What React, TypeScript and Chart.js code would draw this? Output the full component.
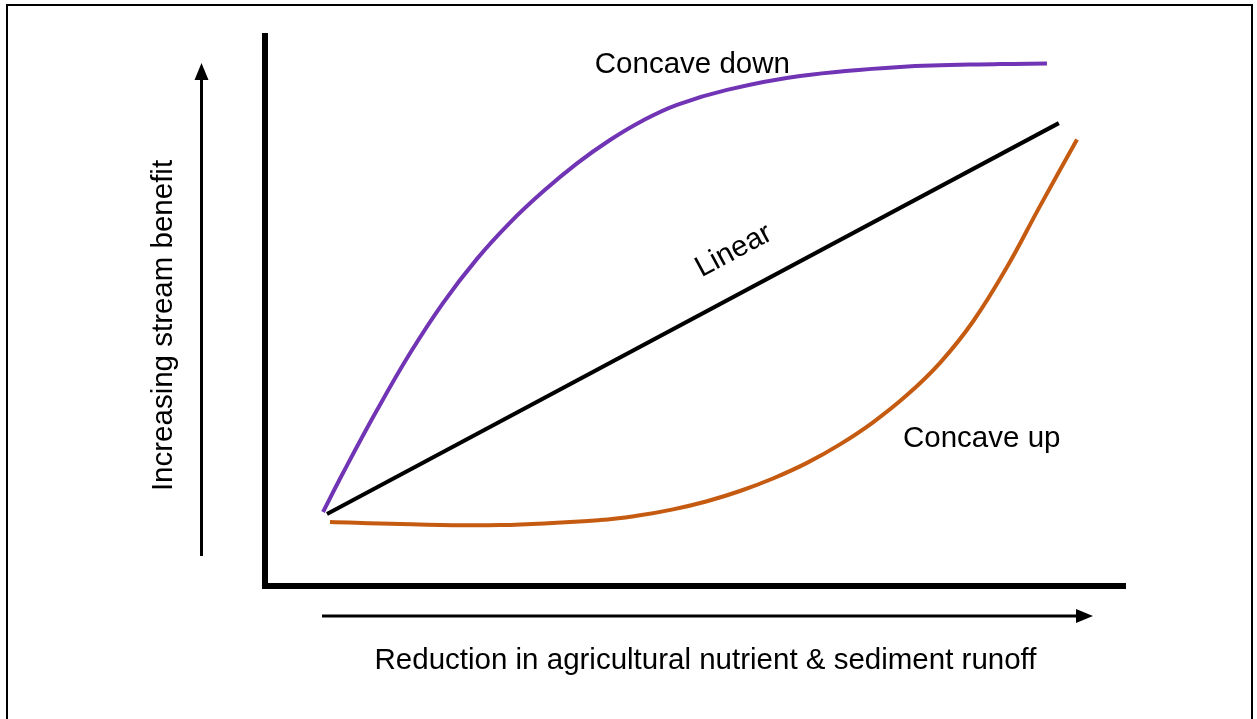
import React, { useEffect, useRef } from "react";
import { Chart, registerables } from "chart.js";

Chart.register(...registerables);

// ---- data (conceptual curves, x = reduction in runoff, y = stream benefit) ----
const concaveDownX = [6.74, 9.06, 13.01, 16.84, 20.67, 24.62, 28.46, 32.29, 36.24, 40.07, 43.9, 47.85, 53.66, 62.14, 73.75, 85.37, 90.82];
const concaveDownY = [13.38, 20.43, 31.81, 42.08, 51.16, 59.15, 65.71, 71.32, 76.42, 80.65, 84.18, 87.0, 89.71, 92.22, 93.85, 94.39, 94.48];

const linearX = [7.2, 92.2];
const linearY = [13.0, 83.7];

const concaveUpX = [7.55, 15.68, 27.29, 38.91, 43.55, 47.39, 51.34, 55.17, 59.0, 62.95, 66.78, 70.62, 74.56, 78.4, 82.23, 86.18, 90.01, 94.31];
const concaveUpY = [11.57, 11.19, 11.01, 11.92, 12.78, 13.85, 15.33, 17.18, 19.44, 22.26, 25.61, 29.6, 34.52, 40.36, 47.83, 57.67, 68.7, 80.74];

const seriesNames = ["Concave down", "Linear", "Concave up"];
const seriesColors = ["#7034B4", "#000000", "#C55A11"];

// label anchors in data units
const labelX = [38.3, 54.9, 74.1];
const labelY = [92.8, 59.3, 25.1];

const xAxisTitle = "Reduction in agricultural nutrient & sediment runoff";
const yAxisTitle = "Increasing stream benefit";

const FONT = '"Liberation Sans", Arial, Helvetica, sans-serif';
const FONT_SIZE = 29.5;

const toPoints = (xs: number[], ys: number[]) => xs.map((x, i) => ({ x, y: ys[i] }));

const diagramPlugin = {
  id: "diagramDecor",
  afterDraw(chart: any) {
    const { ctx, chartArea, scales } = chart;
    const { left, right, top, bottom } = chartArea;
    const xs = scales.x;
    const ys = scales.y;
    ctx.save();

    // outer frame
    ctx.strokeStyle = "#000";
    ctx.lineWidth = 2;
    ctx.strokeRect(7, 5, 1245, 730);

    // main axes
    ctx.lineWidth = 6;
    ctx.lineCap = "butt";
    ctx.beginPath();
    ctx.moveTo(left, top);
    ctx.lineTo(left, bottom + 3);
    ctx.moveTo(left - 3, bottom);
    ctx.lineTo(right, bottom);
    ctx.stroke();

    // vertical arrow
    const ax = left - 63.5;
    const ayBottom = bottom - 30;
    const ayTip = top + 30;
    ctx.lineWidth = 3;
    ctx.beginPath();
    ctx.moveTo(ax, ayBottom);
    ctx.lineTo(ax, ayTip + 14);
    ctx.stroke();
    ctx.fillStyle = "#000";
    ctx.beginPath();
    ctx.moveTo(ax, ayTip);
    ctx.lineTo(ax - 7, ayTip + 17);
    ctx.lineTo(ax + 7, ayTip + 17);
    ctx.closePath();
    ctx.fill();

    // horizontal arrow
    const hy = bottom + 30;
    const hxStart = left + 57;
    const hxTip = right - 33;
    ctx.beginPath();
    ctx.moveTo(hxStart, hy);
    ctx.lineTo(hxTip - 14, hy);
    ctx.stroke();
    ctx.beginPath();
    ctx.moveTo(hxTip, hy);
    ctx.lineTo(hxTip - 17, hy - 7);
    ctx.lineTo(hxTip - 17, hy + 7);
    ctx.closePath();
    ctx.fill();

    // axis titles
    ctx.font = `${FONT_SIZE}px ${FONT}`;
    ctx.fillStyle = "#000";
    ctx.textAlign = "center";
    ctx.textBaseline = "alphabetic";
    ctx.fillText(xAxisTitle, (hxStart + hxTip) / 2 - 2, bottom + 83);

    ctx.save();
    ctx.translate(left - 93, (top + bottom) / 2 + 16);
    ctx.rotate(-Math.PI / 2);
    ctx.fillText(yAxisTitle, 0, 0);
    ctx.restore();

    // series labels
    ctx.textAlign = "left";
    ctx.fillText(seriesNames[0], xs.getPixelForValue(labelX[0]), ys.getPixelForValue(labelY[0]));
    ctx.fillText(seriesNames[2], xs.getPixelForValue(labelX[2]), ys.getPixelForValue(labelY[2]));

    const p0x = xs.getPixelForValue(linearX[0]);
    const p0y = ys.getPixelForValue(linearY[0]);
    const p1x = xs.getPixelForValue(linearX[1]);
    const p1y = ys.getPixelForValue(linearY[1]);
    const ang = Math.atan2(p1y - p0y, p1x - p0x);
    ctx.save();
    ctx.translate(xs.getPixelForValue(labelX[1]), ys.getPixelForValue(labelY[1]));
    ctx.rotate(ang);
    ctx.textAlign = "center";
    ctx.fillText(seriesNames[1], 0, 0);
    ctx.restore();

    ctx.restore();
  },
};

export default function App() {
  const canvasRef = useRef<HTMLCanvasElement | null>(null);

  useEffect(() => {
    const canvas = canvasRef.current;
    if (!canvas) return;
    const chart = new Chart(canvas, {
      type: "line",
      data: {
        datasets: [
          {
            label: seriesNames[0],
            data: toPoints(concaveDownX, concaveDownY),
            borderColor: seriesColors[0],
            borderWidth: 4,
            pointRadius: 0,
            tension: 0.4,
            fill: false,
          },
          {
            label: seriesNames[1],
            data: toPoints(linearX, linearY),
            borderColor: seriesColors[1],
            borderWidth: 4,
            pointRadius: 0,
            fill: false,
          },
          {
            label: seriesNames[2],
            data: toPoints(concaveUpX, concaveUpY),
            borderColor: seriesColors[2],
            borderWidth: 4,
            pointRadius: 0,
            tension: 0.4,
            fill: false,
          },
        ],
      },
      options: {
        animation: false,
        responsive: false,
        devicePixelRatio: 1,
        events: [],
        layout: { padding: { left: 265, right: 131, top: 33, bottom: 133 } },
        plugins: {
          legend: { display: false },
          tooltip: { enabled: false },
          title: { display: false },
        },
        scales: {
          x: { type: "linear", min: 0, max: 100, display: false },
          y: { type: "linear", min: 0, max: 100, display: false },
        },
      },
      plugins: [diagramPlugin],
    } as any);
    return () => chart.destroy();
  }, []);

  return (
    <div style={{ position: "fixed", left: 0, top: 0, width: 1257, height: 719, background: "#fff" }}>
      <canvas ref={canvasRef} width={1257} height={719} style={{ display: "block", width: 1257, height: 719 }} />
    </div>
  );
}
